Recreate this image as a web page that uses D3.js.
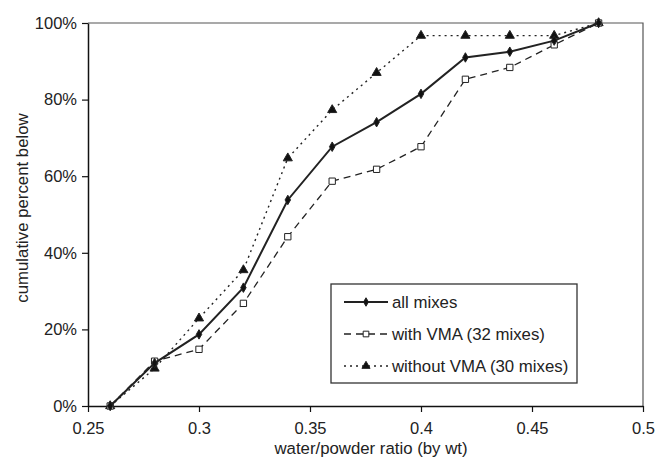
<!DOCTYPE html>
<html>
<head>
<meta charset="utf-8">
<script src="https://cdn.jsdelivr.net/npm/d3@7"></script>
<style>
  body { margin: 0; background: #fff; }
  svg { display: block; }
  text { font-family: "Liberation Sans", Arial, Helvetica, sans-serif; fill: #222; }
</style>
</head>
<body>
<script>
// water/powder ratio classes
var ratios = [0.26, 0.28, 0.30, 0.32, 0.34, 0.36, 0.38, 0.40, 0.42, 0.44, 0.46, 0.48];

// cumulative percent below (fractions)
var allMixes   = [0, 0.112, 0.187, 0.309, 0.538, 0.677, 0.741, 0.815, 0.91, 0.925, 0.954, 1.0];
var withVMA    = [0, 0.117, 0.148, 0.268, 0.442, 0.587, 0.618, 0.677, 0.853, 0.884, 0.943, 1.0];
var withoutVMA = [0, 0.098, 0.229, 0.355, 0.647, 0.773, 0.87, 0.967, 0.967, 0.967, 0.967, 1.0];

var xTicks = [0.25, 0.3, 0.35, 0.4, 0.45, 0.5];
var yTicks = [0, 0.2, 0.4, 0.6, 0.8, 1.0];

var seriesNames = ["all mixes", "with VMA (32 mixes)", "without VMA (30 mixes)"];

window.onload = function() {
    drawChart();
};

function drawChart() {
    var svg = d3.select("body").append("svg").attr("width", 656).attr("height", 459);

    var margin = { top: 23, right: 13, bottom: 53, left: 88 };
    var W = 656, H = 459;

    var x = d3.scaleLinear().domain([0.25, 0.5]).range([margin.left, W - margin.right]);
    var y = d3.scaleLinear().domain([0, 1]).range([H - margin.bottom, margin.top]);

    // frame on top and right
    svg.append("path")
        .attr("d", "M" + x(0.25) + "," + y(1) + "H" + x(0.5) + "V" + y(0))
        .attr("fill", "none")
        .attr("stroke", "#555")
        .attr("stroke-width", 1.2);

    // x axis
    var xAxis = svg.append("g")
        .attr("transform", "translate(0," + y(0) + ")")
        .call(d3.axisBottom(x).tickValues(xTicks).tickFormat(function(d) { return String(d); })
            .tickSize(6).tickSizeOuter(0));
    xAxis.select(".domain").attr("stroke", "#111").attr("stroke-width", 1.5);
    xAxis.selectAll(".tick line").attr("stroke", "#111").attr("stroke-width", 1.2);
    xAxis.selectAll(".tick text").attr("font-size", "16.5px").attr("dy", "1.15em")
        .attr("font-family", "Liberation Sans, Arial, sans-serif").attr("fill", "#222");

    // y axis
    var yAxis = svg.append("g")
        .attr("transform", "translate(" + x(0.25) + ",0)")
        .call(d3.axisLeft(y).tickValues(yTicks).tickFormat(d3.format(".0%"))
            .tickSize(6).tickSizeOuter(0));
    yAxis.select(".domain").attr("stroke", "#111").attr("stroke-width", 1.5);
    yAxis.selectAll(".tick line").attr("stroke", "#111").attr("stroke-width", 1.2);
    yAxis.selectAll(".tick text").attr("font-size", "16.5px").attr("x", -11)
        .attr("font-family", "Liberation Sans, Arial, sans-serif").attr("fill", "#222");

    // axis titles
    svg.append("text")
        .attr("x", 371)
        .attr("y", 454)
        .attr("text-anchor", "middle")
        .attr("font-size", "16.8px")
        .text("water/powder ratio (by wt)");

    svg.append("text")
        .attr("transform", "translate(28," + 208 + ") rotate(-90)")
        .attr("text-anchor", "middle")
        .attr("font-size", "16.8px")
        .text("cumulative percent below");

    var series = [
        { name: seriesNames[0], values: allMixes, dash: null, width: 2, symbol: d3.symbolDiamond, size: 26, fill: "#111" },
        { name: seriesNames[1], values: withVMA, dash: "7,5", width: 1.3, symbol: d3.symbolSquare, size: 40, fill: "#fff" },
        { name: seriesNames[2], values: withoutVMA, dash: "2,4", width: 1.4, symbol: d3.symbolTriangle, size: 36, fill: "#111" }
    ];

    var line = d3.line()
        .x(function(d) { return x(d[0]); })
        .y(function(d) { return y(d[1]); });

    // draw in reverse so the solid line sits on top
    series.slice().reverse().forEach(function(s) {
        var pts = ratios.map(function(r, i) { return [r, s.values[i]]; });
        svg.append("path")
            .datum(pts)
            .attr("d", line)
            .attr("fill", "none")
            .attr("stroke", "#222")
            .attr("stroke-width", s.width)
            .attr("stroke-dasharray", s.dash);

        svg.selectAll(null)
            .data(pts)
            .enter()
            .append("path")
            .attr("transform", function(d) { return "translate(" + x(d[0]) + "," + y(d[1]) + ")"; })
            .attr("d", d3.symbol().type(s.symbol).size(s.size))
            .attr("fill", s.fill)
            .attr("stroke", "#222")
            .attr("stroke-width", 1);
    });

    // legend
    var lg = svg.append("g");
    lg.append("rect")
        .attr("x", 331).attr("y", 284)
        .attr("width", 246).attr("height", 99)
        .attr("fill", "#fff")
        .attr("stroke", "#333")
        .attr("stroke-width", 1.3);

    series.forEach(function(s, i) {
        var cy = 302 + i * 32;
        lg.append("line")
            .attr("x1", 344).attr("x2", 388)
            .attr("y1", cy).attr("y2", cy)
            .attr("stroke", "#222")
            .attr("stroke-width", s.width)
            .attr("stroke-dasharray", s.dash);
        lg.append("path")
            .attr("transform", "translate(366," + cy + ")")
            .attr("d", d3.symbol().type(s.symbol).size(s.size * 0.8))
            .attr("fill", s.fill)
            .attr("stroke", "#222")
            .attr("stroke-width", 1);
        lg.append("text")
            .attr("x", 392).attr("y", cy)
            .attr("dy", "0.36em")
            .attr("font-size", "16.8px")
            .text(s.name);
    });
}
</script>
</body>
</html>
